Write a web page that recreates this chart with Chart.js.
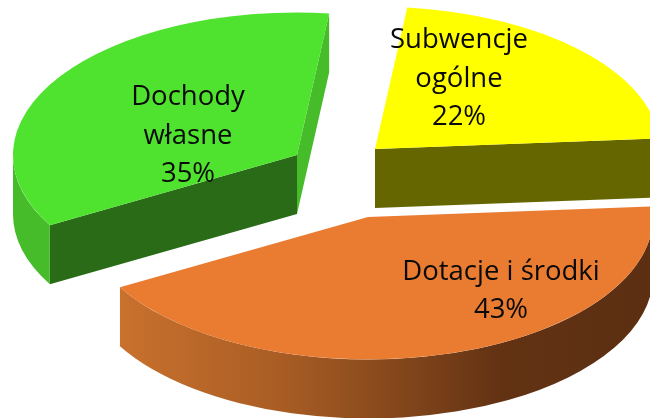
<!DOCTYPE html>
<html lang="pl">
<head>
<meta charset="utf-8">
<title>Dochody</title>
<style>
html,body{margin:0;padding:0;background:#fff;overflow:hidden}
#wrap{width:650px;height:418px}
canvas{display:block;filter:blur(0.35px)}
</style>
<script src="https://cdn.jsdelivr.net/npm/chart.js@4/dist/chart.umd.min.js"></script>
</head>
<body>
<div id="wrap"><canvas id="c" width="650" height="418"></canvas></div>
<script>
const categories = ['Subwencje ogólne', 'Dotacje i środki', 'Dochody własne'];
const labelLines = [['Subwencje', 'ogólne'], ['Dotacje i środki'], ['Dochody', 'własne']];
const shares = [22, 43, 35];

const topColors = ['#ffff00', '#ea7c32', '#4fe32f'];
const cutColors = ['#666600', null, '#296b17'];
const endCutColors = ['#666600', null, '#46bc2a'];
const rimColors = [null, 'gradient', '#46bc2a'];

const view = {
  rx: [285, 285, 284], ry: 142.5, depth: 59,
  // displacement of each exploded slice from the chart centre
  explodeX: [50, 43, -28],
  explodeY: [-60, 8, -54],
  labelDX: [84, 133, -109],
  labelDY: [-70, 74, -19],
  drawOrder: [0, 2, 1]
};

const pie3d = {
  id: 'pie3d',
  beforeDatasetsDraw(chart) {
    const ctx = chart.ctx;
    const arcs = chart.getDatasetMeta(0).data;
    const {ry, depth} = view;

    view.drawOrder.forEach(i => {
      const arc = arcs[i];
      const rx = view.rx[i];
      const ox = arc.x + view.explodeX[i];
      const oy = arc.y + view.explodeY[i];
      const s = arc.startAngle, e = arc.endAngle;
      const px = t => ox + rx * Math.cos(t);
      const py = t => oy + ry * Math.sin(t);

      const face = (t, color) => {
        ctx.fillStyle = color;
        ctx.beginPath();
        ctx.moveTo(ox, oy);
        ctx.lineTo(px(t), py(t));
        ctx.lineTo(px(t), py(t) + depth);
        ctx.lineTo(ox, oy + depth);
        ctx.closePath();
        ctx.fill();
      };

      // cut faces that turn toward the viewer
      if (Math.cos(s) < 0 && cutColors[i]) face(s, cutColors[i]);
      if (Math.cos(e) > 0 && endCutColors[i]) face(e, endCutColors[i]);

      // curved rim: only the lower half of the ellipse is visible
      const a0 = Math.max(s, 0), a1 = Math.min(e, Math.PI);
      if (a1 > a0 && rimColors[i]) {
        let fill = rimColors[i];
        if (fill === 'gradient') {
          const g = ctx.createLinearGradient(px(a1), 0, ox + rx, 0);
          g.addColorStop(0, '#c9712e');
          g.addColorStop(0.3, '#a95d24');
          g.addColorStop(0.55, '#7f441a');
          g.addColorStop(0.72, '#623213');
          g.addColorStop(1, '#5c2f12');
          fill = g;
        }
        ctx.fillStyle = fill;
        ctx.beginPath();
        ctx.ellipse(ox, oy, rx, ry, 0, a0, a1, false);
        ctx.lineTo(px(a1), py(a1) + depth);
        ctx.ellipse(ox, oy + depth, rx, ry, 0, a1, a0, true);
        ctx.closePath();
        ctx.fill();
      }

      // top face: the library's own arc element, projected
      ctx.save();
      ctx.translate(ox, oy);
      ctx.scale(rx / arc.outerRadius, ry / arc.outerRadius);
      ctx.translate(-arc.x, -arc.y);
      arc.draw(ctx);
      ctx.restore();
    });
    return false;
  },
  afterDraw(chart) {
    const ctx = chart.ctx;
    const arcs = chart.getDatasetMeta(0).data;
    ctx.save();
    ctx.font = '27.5px "Open Sans"';
    ctx.fillStyle = '#0a0a0a';
    ctx.textAlign = 'center';
    ctx.textBaseline = 'middle';
    const lineH = 38.5;
    arcs.forEach((arc, i) => {
      const lines = labelLines[i].concat(shares[i] + '%');
      const cx = arc.x + view.explodeX[i] + view.labelDX[i];
      const cy = arc.y + view.explodeY[i] + view.labelDY[i];
      lines.forEach((t, k) => {
        ctx.fillText(t, cx, cy + (k - (lines.length - 1) / 2) * lineH);
      });
    });
    ctx.restore();
  }
};

new Chart(document.getElementById('c'), {
  type: 'pie',
  data: {
    labels: categories,
    datasets: [{data: shares, backgroundColor: topColors, borderWidth: 0}]
  },
  options: {
    responsive: false,
    animation: false,
    events: [],
    rotation: 6.5,
    layout: {padding: 0},
    plugins: {legend: {display: false}, title: {display: false}, tooltip: {enabled: false}}
  },
  plugins: [pie3d]
});
</script>
</body>
</html>
